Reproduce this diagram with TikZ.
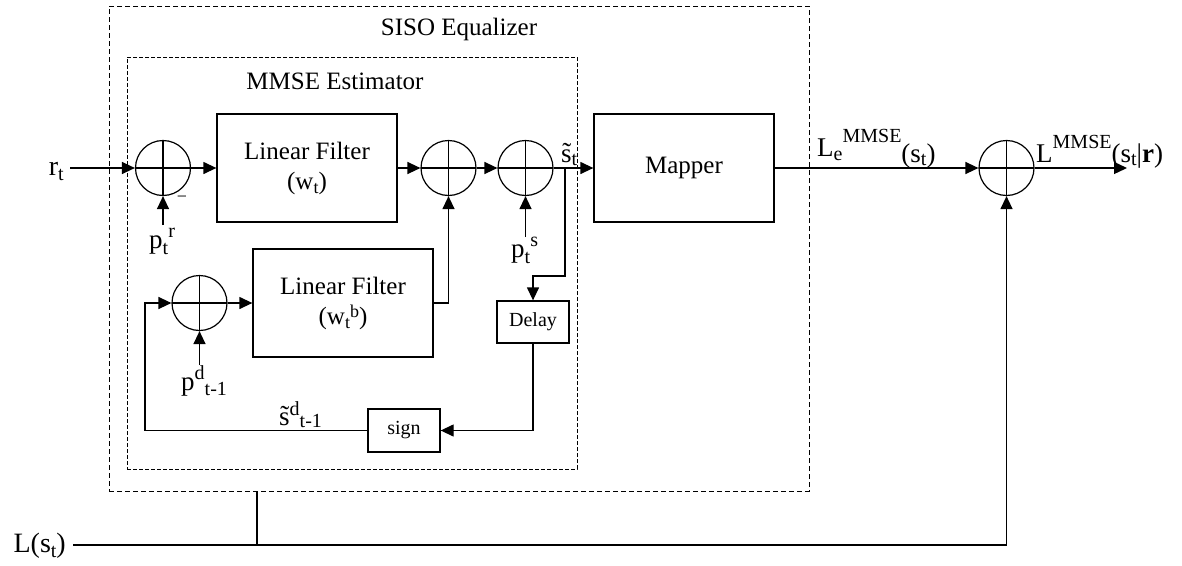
\documentclass[tikz,border=0pt]{standalone}
\usepackage{fontspec}
\setmainfont{Liberation Serif}
\usetikzlibrary{arrows.meta}
% raised or lowered small text: [size]{raise in pt}{text}
\newcommand{\shift}[3][20]{\raisebox{#2pt}{\fontsize{#1}{#1}\selectfont #3}}

\begin{document}
\begin{tikzpicture}[x=1pt,y=-1pt,
  wire/.style={line width=1.3pt},
  arr/.style={wire,-{Triangle[length=13pt,width=12pt]}},
  blk/.style={draw,line width=1.3pt,minimum width=180pt,minimum height=108pt,
    align=center,inner sep=0pt,font=\fontsize{25}{30}\selectfont},
  small/.style={draw,line width=1.3pt,minimum width=72pt,minimum height=42pt,
    inner sep=0pt,font=\fontsize{20}{24}\selectfont},
  sum/.style={circle,draw,line width=1.2pt,minimum size=55pt,inner sep=0pt,
    path picture={\draw[line width=1.2pt]
      (path picture bounding box.north) -- (path picture bounding box.south)
      (path picture bounding box.west) -- (path picture bounding box.east);}},
  frame/.style={draw,line width=0.9pt,dash pattern=on 5pt off 3pt,inner sep=0pt},
  lbl/.style={inner sep=0pt,font=\fontsize{25}{30}\selectfont},
  big/.style={inner sep=0pt,font=\fontsize{27}{32}\selectfont},
  port/.style={inner sep=0pt,font=\fontsize{28}{32}\selectfont,
    text height=19pt,text depth=5pt},
]
\useasboundingbox (0,0) rectangle (1182,565);

% dashed enclosures
\node[frame,minimum width=700pt,minimum height=485pt] (siso) at (459,248.5) {};
\node[frame,dash pattern=on 4pt off 2pt,minimum width=450pt,minimum height=412pt] (mmse) at (352,263) {};
\node[lbl,anchor=base] (sisot) at (459,35) {SISO Equalizer};
\node[lbl,anchor=base] (mmset) at (335,89) {MMSE Estimator};

% blocks
\node[blk] (lf1) at (307,168) {Linear Filter\\(w\shift[18]{-4}{t})};
\node[blk] (lf2) at (343,303) {Linear Filter\\(w\shift[18]{-4}{t}\shift[18]{7}{b})};
\node[blk] (map) at (684,168) {Mapper};
\node[small] (delay) at (533,322) {Delay};
\node[small,minimum height=43pt] (sign) at (404,430.5) {sign};

% summing junctions
\node[sum] (s1) at (163,168) {};
\node[sum] (s2) at (448.5,168) {};
\node[sum] (s3) at (525.5,168) {};
\node[sum] (sf) at (199.5,303) {};
\node[sum] (so) at (1006.5,168) {};

% signal names
\node[port,anchor=east,inner xsep=6pt] (rt) at (70,168) {r\shift{-5}{t}};
\node[port,anchor=east,inner xsep=7pt] (ls) at (73,545) {L(s\shift{-5}{t})};
\node[big,anchor=base west] (prl) at (149,248) {p\shift{-6}{t}\shift{11}{r}};
\node[big,anchor=base west] (psl) at (511,257) {p\shift{-6}{t}\shift{11}{s}};
\node[big,anchor=base west] (pdl) at (181,390) {p\shift{11}{d}\shift{-5}{t-1}};
\node[big,anchor=base west] (sdl) at (279,425) {\~s\shift{10}{d}\shift{-2}{t-1}};
\node[big,anchor=base west] (stl) at (561,162) {\~s\shift{-3}{t}};
\node[big,anchor=base west] (lel) at (817,162) {\raisebox{6pt}{L\shift{-4}{e}\shift{14}{MMSE}}(s\shift{-3}{t})};
\node[big,anchor=base west] (lol) at (1036,162) {L\shift{14}{MMSE}(s\shift{-3}{t}|\textbf{r})};
\node[inner sep=0pt,font=\fontsize{18}{18}\selectfont] (minus) at (182,199) {−};

% free ends and corners
\coordinate (pr) at (163,225);
\coordinate (ps) at (525.5,237);
\coordinate (pd) at (199.5,365);
\coordinate (br) at (565,168);
\coordinate (fb) at (145,303);
\coordinate (tap) at (257,545);
\coordinate (out) at (1127,168);

% forward path
\draw[arr] (rt) -- (s1);
\draw[arr] (s1) -- (lf1);
\draw[arr] (lf1) -- (s2);
\draw[arr] (s2) -- (s3);
\draw[arr] (s3) -- (map);
\draw[arr] (map) -- (so);
\draw[arr] (so) -- (out);

% side inputs
\draw[arr] (pr) -- (s1);
\draw[arr] (ps) -- (s3);
\draw[arr] (pd) -- (sf);

% decision feedback loop
\draw[arr] (br) -- ++(0,108) -| (delay);
\draw[arr] (delay) |- (sign);
\draw[arr] (sign) -| (fb) -- (sf);
\draw[arr] (sf) -- (lf2);
\draw[arr] (lf2) -| (s2);

% a priori input
\draw[arr] (ls) -| (so);
\draw[wire] (tap) -- (tap |- siso.south);
\end{tikzpicture}
\end{document}
